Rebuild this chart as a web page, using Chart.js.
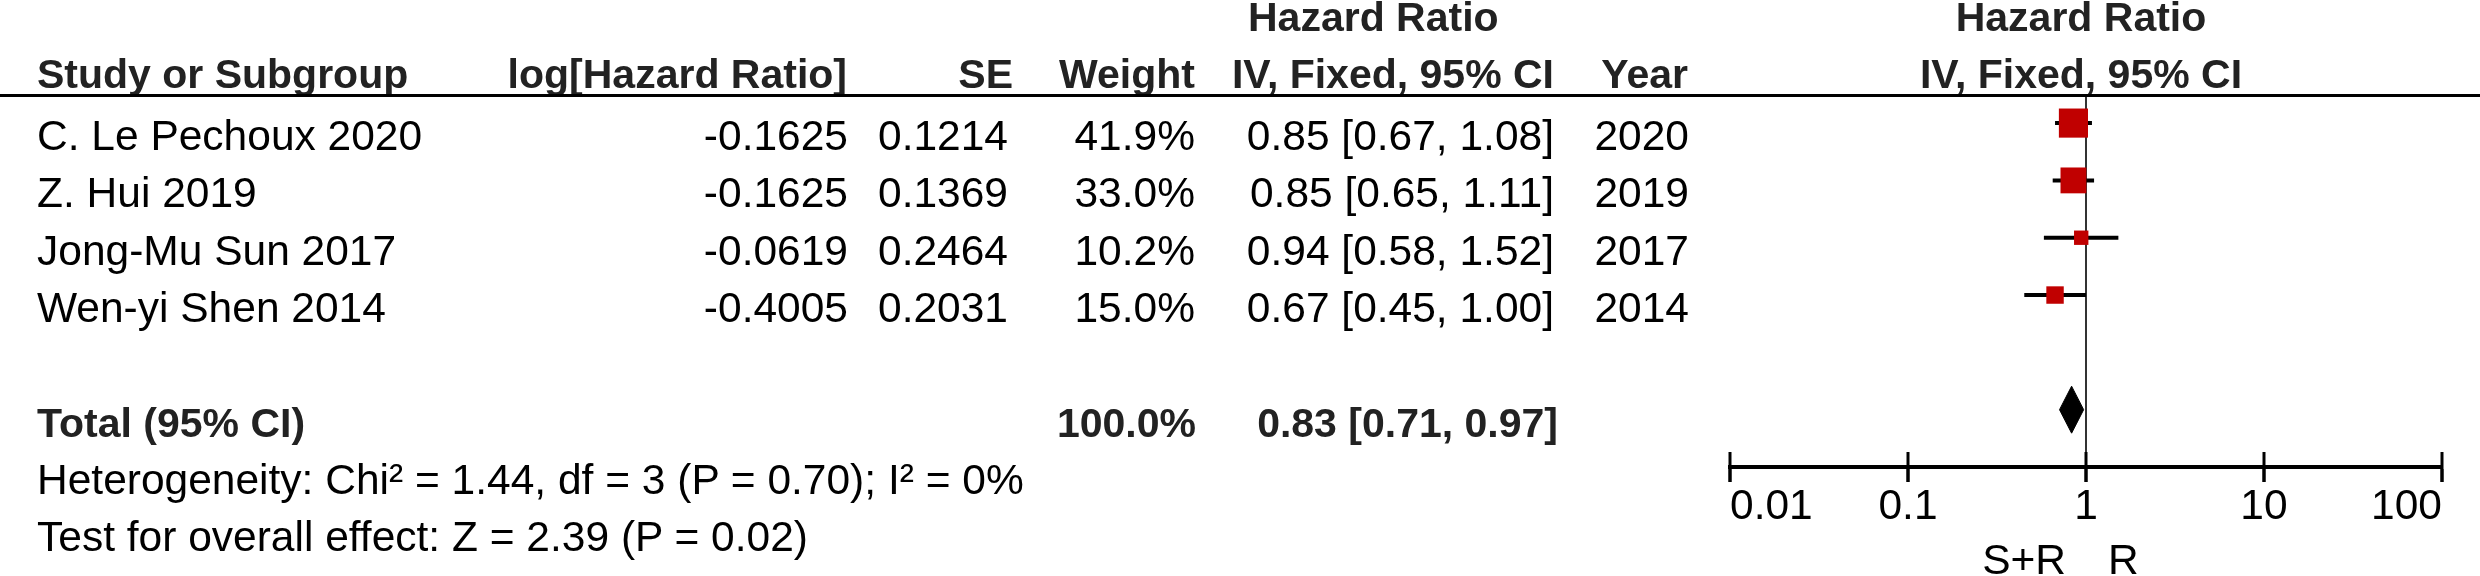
<!DOCTYPE html>
<html>
<head>
<meta charset="utf-8">
<script src="https://cdn.jsdelivr.net/npm/chart.js@4.4.1/dist/chart.umd.min.js"></script>
<style>
  html, body { margin: 0; padding: 0; background: #ffffff; }
  #wrap { position: relative; width: 2480px; height: 576px; overflow: hidden; background: #fff; }
  #c { position: absolute; left: 0; top: 0; }
  #txt { position: absolute; left: 0; top: 0; pointer-events: none; }
</style>
</head>
<body>
<div id="wrap">
  <canvas id="c" width="2480" height="576"></canvas>
  <svg id="txt" width="2480" height="576" xmlns="http://www.w3.org/2000/svg"></svg>
</div>
<script>
// ---------------- DATA ----------------
const studies = ["C. Le Pechoux 2020", "Z. Hui 2019", "Jong-Mu Sun 2017", "Wen-yi Shen 2014"];
const logHazardRatio = ["-0.1625", "-0.1625", "-0.0619", "-0.4005"];
const seValues = ["0.1214", "0.1369", "0.2464", "0.2031"];
const weights = [41.9, 33.0, 10.2, 15.0];
const hazardRatio = [0.85, 0.85, 0.94, 0.67];
const ciLower = [0.67, 0.65, 0.58, 0.45];
const ciUpper = [1.08, 1.11, 1.52, 1.00];
const years = ["2020", "2019", "2017", "2014"];
const totalWeight = [100.0];
const totalHR = [0.83];
const totalLower = [0.71];
const totalUpper = [0.97];
const heterogeneityText = "Heterogeneity: Chi\u00B2 = 1.44, df = 3 (P = 0.70); I\u00B2 = 0%";
const overallEffectText = "Test for overall effect: Z = 2.39 (P = 0.02)";
const tickValues = [0.01, 0.1, 1, 10, 100];
const tickLabels = ["0.01", "0.1", "1", "10", "100"];
const favoursLeft = "S+R";
const favoursRight = "R";

// ---------------- STYLE ----------------
const FONT = "'Liberation Sans', Arial, Helvetica, sans-serif";
const REG_SIZE = 42.5;
const BOLD_SIZE = 41;
const TOTAL_ROW = studies.length + 1;
const Y_MIN = -0.49, Y_MAX = 6;
const SQUARE_K = 4.5;
const DIAMOND_HALF = 0.41;
const SQUARE_COLOR = '#C00000';

const datasets = [];
datasets.push({
  label: 'Study estimates',
  data: hazardRatio.map((h, i) => ({ x: h, y: i })),
  pointStyle: 'rect',
  pointRadius: weights.map(w => SQUARE_K * Math.sqrt(w) * Math.SQRT1_2),
  pointHoverRadius: weights.map(w => SQUARE_K * Math.sqrt(w) * Math.SQRT1_2),
  backgroundColor: SQUARE_COLOR,
  borderWidth: 0,
  order: 0
});
studies.forEach((s, i) => {
  datasets.push({
    label: s + ' CI',
    data: [{ x: ciLower[i], y: i }, { x: ciUpper[i], y: i }],
    showLine: true,
    borderColor: '#000',
    borderWidth: 4,
    pointRadius: 0,
    order: 1
  });
});
datasets.push({
  label: 'Total',
  data: [
    { x: totalLower[0], y: TOTAL_ROW },
    { x: totalHR[0], y: TOTAL_ROW - DIAMOND_HALF },
    { x: totalUpper[0], y: TOTAL_ROW },
    { x: totalHR[0], y: TOTAL_ROW + DIAMOND_HALF },
    { x: totalLower[0], y: TOTAL_ROW }
  ],
  showLine: true,
  borderColor: '#000',
  borderWidth: 1,
  backgroundColor: '#000',
  fill: 'shape',
  pointRadius: 0,
  tension: 0,
  order: 1
});
datasets.push({
  label: 'axis ticks',
  data: tickValues.map(v => ({ x: v, y: Y_MAX })),
  pointStyle: 'line',
  rotation: 90,
  pointRadius: 15,
  borderColor: '#000',
  backgroundColor: '#000',
  borderWidth: 3,
  clip: false,
  order: 2
});

const chart = new Chart(document.getElementById('c'), {
  type: 'scatter',
  data: { datasets },
  options: {
    responsive: false,
    animation: false,
    devicePixelRatio: 1,
    events: [],
    layout: { padding: { left: 1730, right: 38, top: 95, bottom: 43 } },
    plugins: { legend: { display: false }, tooltip: { enabled: false }, title: { display: false } },
    scales: {
      x: {
        type: 'logarithmic',
        min: 0.01,
        max: 100,
        position: 'bottom',
        afterBuildTicks: (scale) => { scale.ticks = tickValues.map(v => ({ value: v })); },
        ticks: {
          callback: (value, index) => tickLabels[index],
          align: 'inner',
          autoSkip: false,
          maxRotation: 0,
          minRotation: 0,
          padding: 0,
          color: '#000',
          font: { family: FONT, size: REG_SIZE }
        },
        grid: {
          display: true,
          drawOnChartArea: true,
          color: (c) => (c.tick && c.tick.value === 1) ? '#333' : 'rgba(0,0,0,0)',
          lineWidth: (c) => (c.tick && c.tick.value === 1) ? 2 : 0,
          tickColor: '#000',
          tickWidth: 3,
          tickLength: 15
        },
        border: { display: true, color: '#000', width: 4 }
      },
      y: { type: 'linear', min: Y_MIN, max: Y_MAX, reverse: true, display: false }
    }
  }
});

// ---------------- TEXT (real SVG text) ----------------
const svg = document.getElementById('txt');
const NS = 'http://www.w3.org/2000/svg';
function addText(str, x, y, anchor, bold) {
  const t = document.createElementNS(NS, 'text');
  t.setAttribute('x', x);
  t.setAttribute('y', y);
  t.setAttribute('text-anchor', anchor);
  t.setAttribute('font-family', FONT);
  t.setAttribute('font-size', bold ? BOLD_SIZE : REG_SIZE);
  t.setAttribute('font-weight', bold ? 'bold' : 'normal');
  t.setAttribute('fill', bold ? '#222' : '#000');
  t.textContent = str;
  svg.appendChild(t);
}
function addRect(x, y, w, h, color) {
  const r = document.createElementNS(NS, 'rect');
  r.setAttribute('x', x); r.setAttribute('y', y);
  r.setAttribute('width', w); r.setAttribute('height', h);
  r.setAttribute('fill', color);
  svg.appendChild(r);
}

const yScale = chart.scales.y;
const baseOf = (row) => yScale.getPixelForValue(row) + 27;

// column layout
const COL = { name: 37, logHR: 848, se: 1008, weight: 1195, ci: 1554, year: 1689, plot: 2081 };

// header
addText("Hazard Ratio", 1248, 31, 'start', true);
addText("Hazard Ratio", COL.plot, 31, 'middle', true);
addText("Study or Subgroup", COL.name, 88, 'start', true);
addText("log[Hazard Ratio]", 847, 88, 'end', true);
addText("SE", 1013, 88, 'end', true);
addText("Weight", COL.weight, 88, 'end', true);
addText("IV, Fixed, 95% CI", COL.ci, 88, 'end', true);
addText("Year", 1688, 88, 'end', true);
addText("IV, Fixed, 95% CI", COL.plot, 88, 'middle', true);
addRect(0, 94, 2480, 3, '#000');

// study rows
studies.forEach((s, i) => {
  const b = baseOf(i);
  addText(s, COL.name, b, 'start', false);
  addText(logHazardRatio[i], COL.logHR, b, 'end', false);
  addText(seValues[i], COL.se, b, 'end', false);
  addText(weights[i].toFixed(1) + '%', COL.weight, b, 'end', false);
  addText(hazardRatio[i].toFixed(2) + ' [' + ciLower[i].toFixed(2) + ', ' + ciUpper[i].toFixed(2) + ']', COL.ci, b, 'end', false);
  addText(years[i], COL.year, b, 'end', false);
});

// total
const tb = baseOf(TOTAL_ROW);
addText("Total (95% CI)", COL.name, tb, 'start', true);
addText(totalWeight[0].toFixed(1) + '%', COL.weight + 1, tb, 'end', true);
addText(totalHR[0].toFixed(2) + ' [' + totalLower[0].toFixed(2) + ', ' + totalUpper[0].toFixed(2) + ']', COL.ci + 4, tb, 'end', true);
addText(heterogeneityText, COL.name, baseOf(TOTAL_ROW + 1), 'start', false);
addText(overallEffectText, COL.name, baseOf(TOTAL_ROW + 2), 'start', false);

// favours labels
addText(favoursLeft, 2066, 574, 'end', false);
addText(favoursRight, 2108, 574, 'start', false);
</script>
</body>
</html>
